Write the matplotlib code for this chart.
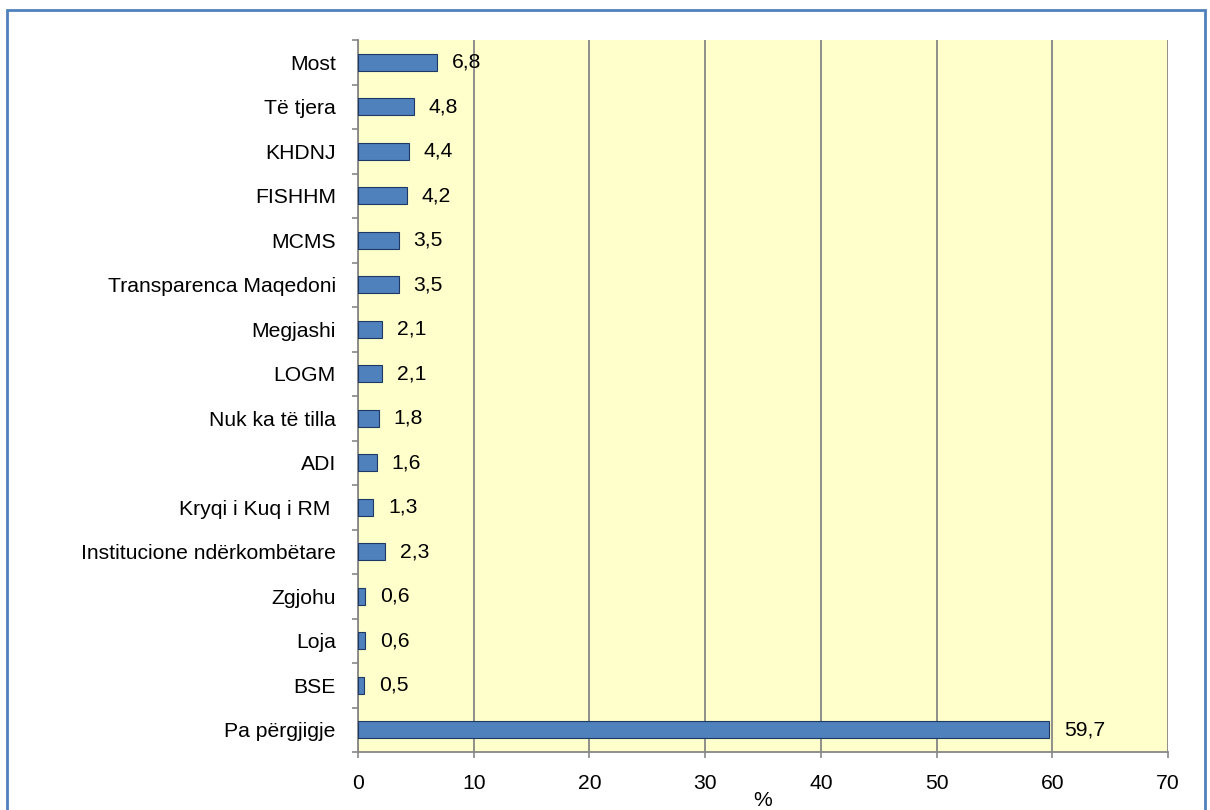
import matplotlib
matplotlib.use("Agg")
import matplotlib.pyplot as plt
from matplotlib.patches import Rectangle

categories = ["Most", "Të tjera", "KHDNJ", "FISHHM", "MCMS", "Transparenca Maqedoni",
              "Megjashi", "LOGM", "Nuk ka të tilla", "ADI", "Kryqi i Kuq i RM ",
              "Institucione ndërkombëtare", "Zgjohu", "Loja", "BSE", "Pa përgjigje"]
values = [6.8, 4.8, 4.4, 4.2, 3.5, 3.5, 2.1, 2.1, 1.8, 1.6, 1.3, 2.3, 0.6, 0.6, 0.5, 59.7]
xticks = [0, 10, 20, 30, 40, 50, 60, 70]

plt.rcParams['font.family'] = ['Liberation Sans', 'DejaVu Sans']
plt.rcParams['font.size'] = 15.2

fig = plt.figure(figsize=(12.1, 8.1), dpi=100)
fig.patches.append(Rectangle((7 / 1210, -0.1), 1198 / 1210, 1.1 - 10 / 810,
                             transform=fig.transFigure, fill=False,
                             edgecolor="#4F81BD", linewidth=2))
ax = fig.add_axes([358 / 1210, 1 - 752 / 810, 810 / 1210, 712 / 810])
ax.set_facecolor("#FFFFCC")

n = len(categories)
pos = list(range(n))
ax.barh(pos, values, height=0.39, color="#4F81BD", edgecolor="#1F3864", linewidth=0.8, zorder=3)
for p, v in zip(pos, values):
    ax.text(v + 1.3, p, f"{v:.1f}".replace(".", ","), va="center", ha="left", zorder=4)

ax.set_ylim(n - 0.5, -0.5)
ax.set_xlim(0, 70)
ax.set_xticks(xticks)
ax.set_yticks(pos)
ax.set_yticklabels(categories)
ax.set_yticks([i - 0.5 for i in range(n + 1)], minor=True)
ax.tick_params(axis="y", which="major", length=0, pad=16)
ax.tick_params(axis="y", which="minor", length=4, color="#878787", width=1.2)
ax.tick_params(axis="x", length=4, color="#878787", width=1.2, pad=12)
ax.grid(axis="x", color="#878787", linewidth=1.3, zorder=1)
for s in ["top", "right"]:
    ax.spines[s].set_visible(False)
for s in ["left", "bottom"]:
    ax.spines[s].set_color("#878787")
    ax.spines[s].set_linewidth(1.3)
ax.set_xlabel("%")
ax.xaxis.set_label_coords(0.5, -0.068)
ax.xaxis.label.set_va("center")

fig.savefig("out.png", dpi=100)
